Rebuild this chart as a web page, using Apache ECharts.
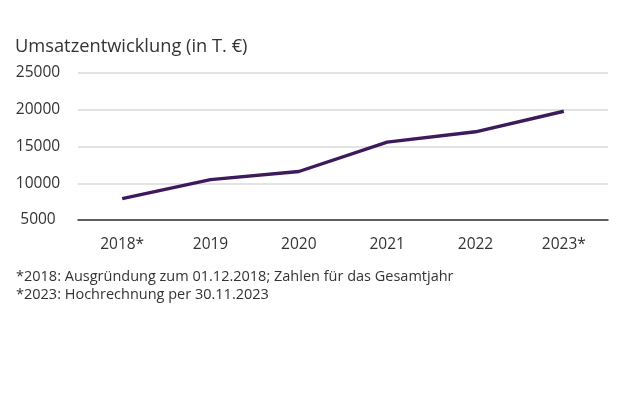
<!DOCTYPE html>
<html><head><meta charset="utf-8">
<script src="https://cdn.jsdelivr.net/npm/echarts@6/dist/echarts.min.js"></script>
<style>html,body{margin:0;padding:0;background:#fff}#c{width:620px;height:413px}</style>
</head><body><div id="c"></div>
<script>
const categories = ['2018*', '2019', '2020', '2021', '2022', '2023*'];
const revenue = [7900, 10500, 11600, 15600, 17000, 19800];
const yTicks = [5000, 10000, 15000, 20000, 25000];
const titleText = 'Umsatzentwicklung (in T. €)';
const footnotes = ['*2018: Ausgründung zum 01.12.2018; Zahlen für das Gesamtjahr', '*2023: Hochrechnung per 30.11.2023'];

const FONT = '"Open Sans", "Noto Sans", sans-serif';
const chart = echarts.init(document.getElementById('c'), null, {renderer: 'canvas'});
chart.setOption({
  backgroundColor: '#fff',
  animation: false,
  title: {text: titleText, left: 10, top: 33, textStyle: {fontFamily: FONT, fontSize: 18.3, fontWeight: 'normal', color: '#333'}},
  grid: {left: 78, right: 12, top: 73, bottom: 413 - 220},
  xAxis: {
    type: 'category', data: categories, boundaryGap: true,
    axisLine: {lineStyle: {color: '#333', width: 1.5}},
    axisTick: {show: false},
    axisLabel: {fontFamily: FONT, fontSize: 15.5, color: '#333', margin: 17}
  },
  yAxis: {
    type: 'value', min: yTicks[0], max: yTicks[yTicks.length - 1], interval: 5000,
    axisLine: {show: false}, axisTick: {show: false},
    splitLine: {lineStyle: {color: '#dadada', width: 1.5}},
    axisLabel: {fontFamily: FONT, fontSize: 15.5, color: '#333', align: 'center', margin: 40,
      formatter: v => String(v)}
  },
  series: [{
    type: 'line', data: revenue, symbol: 'none',
    lineStyle: {color: '#3d1a5c', width: 3.4}
  }],
  graphic: footnotes.map((t, i) => ({
    type: 'text', left: 16, top: 269 + i * 18,
    style: {text: t, font: '14.5px ' + FONT, fill: '#333'}
  }))
});
</script></body></html>
